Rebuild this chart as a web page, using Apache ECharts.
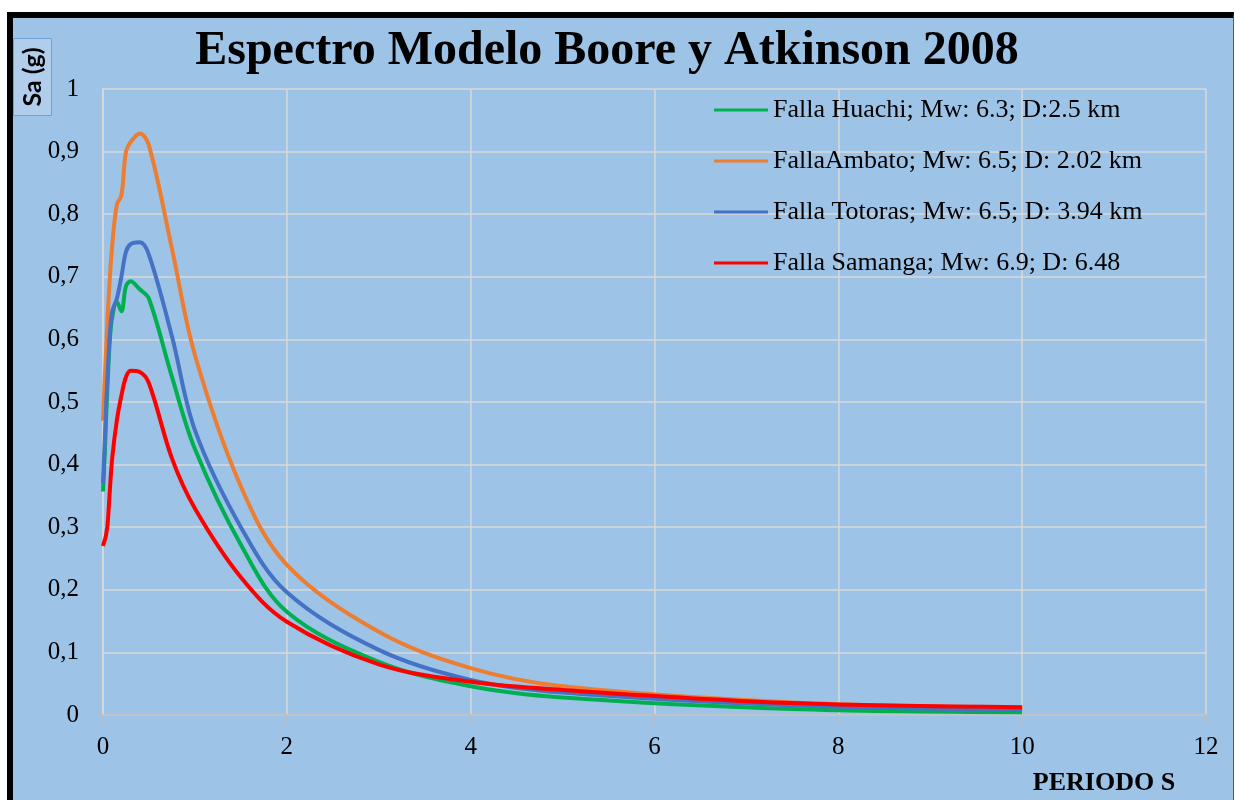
<!DOCTYPE html>
<html>
<head>
<meta charset="utf-8">
<title>Espectro Modelo Boore y Atkinson 2008</title>
<script src="https://cdn.jsdelivr.net/npm/echarts@6/dist/echarts.min.js"></script>
<style>
  html, body { margin: 0; padding: 0; background: #ffffff; width: 1235px; height: 800px; overflow: hidden; }
  #frame {
    position: absolute; left: 7px; top: 12px; width: 1220px; height: 800px;
    background: #9dc3e6;
    border-top: 6px solid #000000; border-left: 6px solid #000000; border-right: 1px solid #3f5f80;
  }
  #chart { position: absolute; left: 0; top: 0; width: 1235px; height: 800px; }
</style>
</head>
<body>
<div id="frame"></div>
<div id="chart"></div>
<script>
// Periods (s)
const periods = [0, 0.02, 0.03, 0.05, 0.075, 0.1, 0.15, 0.2, 0.25, 0.3, 0.4, 0.5, 0.75, 1.0, 1.5, 2, 3, 4, 5, 7.5, 10];

// Spectral acceleration Sa (g) for each fault
const huachi  = [0.357, 0.42, 0.46, 0.53, 0.60, 0.635, 0.66, 0.645, 0.685, 0.693, 0.68, 0.665, 0.54, 0.425, 0.272, 0.165, 0.085, 0.046, 0.028, 0.0096, 0.0045];
const ambato  = [0.47, 0.54, 0.57, 0.635, 0.70, 0.75, 0.815, 0.83, 0.90, 0.915, 0.929, 0.91, 0.745, 0.575, 0.365, 0.24, 0.133, 0.075, 0.046, 0.02, 0.012];
const totoras = [0.37, 0.44, 0.48, 0.545, 0.61, 0.645, 0.665, 0.70, 0.74, 0.752, 0.755, 0.735, 0.605, 0.455, 0.30, 0.196, 0.104, 0.056, 0.036, 0.0155, 0.008];
const samanga = [0.27, 0.28, 0.285, 0.305, 0.36, 0.41, 0.47, 0.51, 0.54, 0.55, 0.548, 0.53, 0.41, 0.33, 0.22, 0.149, 0.081, 0.053, 0.040, 0.019, 0.0125];

const seriesNames = [
  'Falla Huachi; Mw: 6.3; D:2.5 km',
  'FallaAmbato; Mw: 6.5; D: 2.02 km',
  'Falla Totoras; Mw: 6.5; D: 3.94 km',
  'Falla Samanga; Mw: 6.9; D: 6.48'
];
const seriesColors = ['#00b050', '#ed7d31', '#4472c4', '#ff0000'];
const seriesValues = [huachi, ambato, totoras, samanga];

// Axis tick labels
const yTickLabels = ['0', '0,1', '0,2', '0,3', '0,4', '0,5', '0,6', '0,7', '0,8', '0,9', '1'];
const xTickLabels = ['0', '2', '4', '6', '8', '10', '12'];

const serif = '"Liberation Serif", "Times New Roman", serif';

const chart = echarts.init(document.getElementById('chart'), null, { renderer: 'canvas' });

chart.setOption({
  backgroundColor: 'transparent',
  animation: false,
  title: {
    text: 'Espectro Modelo Boore y Atkinson 2008',
    left: 602, top: 23, textAlign: 'center',
    textStyle: { fontFamily: serif, fontSize: 48, fontWeight: 'bold', color: '#000000' }
  },
  legend: {
    orient: 'vertical',
    left: 714, top: 97, padding: 0,
    itemWidth: 54, itemHeight: 3,
    itemGap: 25,
    icon: 'rect',
    textStyle: { fontFamily: serif, fontSize: 26, color: '#000000', lineHeight: 24 },
    data: seriesNames.map((n, i) => ({ name: n, itemStyle: { color: seriesColors[i] } }))
  },
  grid: { left: 103, right: 29, top: 89, bottom: 85, outerBoundsMode: 'none', containLabel: false },
  xAxis: {
    type: 'value', min: 0, max: 12, interval: 2,
    axisLine: { show: true, lineStyle: { color: '#bfbfbf', width: 1.5 } },
    axisTick: { show: true, length: 8, lineStyle: { color: '#bfbfbf', width: 1.5 } },
    axisLabel: {
      margin: 20, fontFamily: serif, fontSize: 25, color: '#000000',
      formatter: v => xTickLabels[Math.round(v / 2)]
    },
    splitLine: { show: true, lineStyle: { color: '#d9d9d9', width: 1.5 } }
  },
  yAxis: {
    type: 'value', min: 0, max: 1, interval: 0.1,
    axisLine: { show: true, lineStyle: { color: '#d9d9d9', width: 1.5 } },
    axisTick: { show: false },
    axisLabel: {
      margin: 24, fontFamily: serif, fontSize: 25, color: '#000000',
      formatter: v => yTickLabels[Math.round(v * 10)]
    },
    splitLine: { show: true, lineStyle: { color: '#d9d9d9', width: 1.5 } }
  },
  graphic: [
    {
      type: 'rect', left: 13, top: 38,
      shape: { width: 38, height: 77 },
      style: { fill: '#b1cdec', stroke: '#6ea2d6', lineWidth: 1 }
    },
    {
      type: 'text', x: 33, y: 77, rotation: Math.PI / 2,
      style: {
        text: 'Sa (g)', fontFamily: 'Lato, "Liberation Sans", sans-serif', fontWeight: 'bold',
        fontSize: 25, fill: '#000000', align: 'center', verticalAlign: 'middle'
      }
    },
    {
      // x-axis title
      type: 'text', x: 1104, y: 783,
      style: {
        text: 'PERIODO S', fontFamily: serif, fontWeight: 'bold',
        fontSize: 26, fill: '#000000', align: 'center', verticalAlign: 'middle'
      }
    }
  ],
  series: seriesValues.map((vals, i) => ({
    name: seriesNames[i],
    type: 'line',
    smooth: 0.35,
    symbol: 'none',
    color: seriesColors[i],
    lineStyle: { width: 4, color: seriesColors[i] },
    data: periods.map((t, j) => [t, vals[j]])
  }))
});
</script>
</body>
</html>
